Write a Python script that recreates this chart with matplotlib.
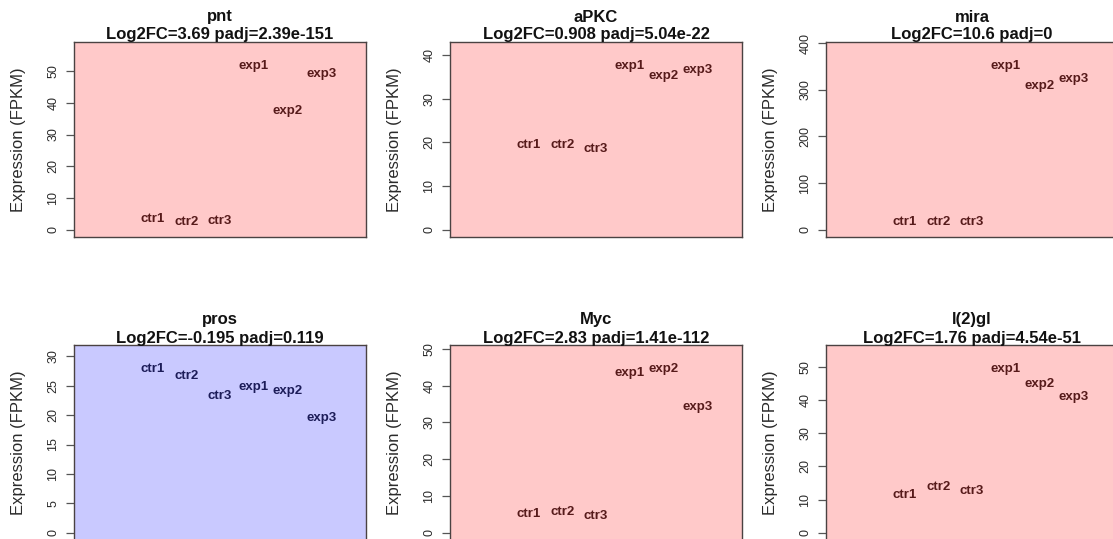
import matplotlib
matplotlib.use("Agg")
import matplotlib.pyplot as plt
from matplotlib.ticker import MultipleLocator
from matplotlib.transforms import offset_copy

plt.rcParams["font.family"] = ["Liberation Sans", "DejaVu Sans"]

# Genes, DESeq2 statistics and per-sample expression (FPKM)
genes = ["pnt", "aPKC", "mira", "pros", "Myc", "l(2)gl"]
log2fc = ["3.69", "0.908", "10.6", "-0.195", "2.83", "1.76"]
padj = ["2.39e-151", "5.04e-22", "0", "0.119", "1.41e-112", "4.54e-51"]
samples = ["ctr1", "ctr2", "ctr3", "exp1", "exp2", "exp3"]

pnt_fpkm = [3.4, 2.6, 2.7, 51.7, 37.5, 49.2]
apkc_fpkm = [19.4, 19.4, 18.5, 37.6, 35.3, 36.7]
mira_fpkm = [17.2, 17.5, 17.5, 351.7, 308.7, 322.4]
pros_fpkm = [27.9, 26.6, 23.3, 24.7, 24.1, 19.5]
myc_fpkm = [5.2, 5.75, 4.5, 43.5, 44.6, 34.2]
l2gl_fpkm = [11.3, 13.8, 12.6, 49.5, 44.8, 40.9]
tick_steps = [10, 10, 100, 5, 10, 10]

expression = [pnt_fpkm, apkc_fpkm, mira_fpkm, pros_fpkm, myc_fpkm, l2gl_fpkm]

W, H = 1113, 539
fig = plt.figure(figsize=(W / 100, H / 100), dpi=100)
fig.patch.set_facecolor("white")

lefts = [74, 450, 826]
tops = [42, 345]
pw, ph = 292, 195

up_fill, up_text = "#ffc9c9", "#561a1a"
down_fill, down_text = "#c9c9ff", "#1c1c58"
frame = "#4a4242"

for i, gene in enumerate(genes):
    r, c = divmod(i, 3)
    left, top = lefts[c], tops[r]
    ax = fig.add_axes([left / W, 1 - (top + ph) / H, pw / W, ph / H])
    up = float(log2fc[i]) >= 0
    ax.set_facecolor(up_fill if up else down_fill)
    tcol = up_text if up else down_text

    vals = expression[i]
    xs = list(range(1, len(samples) + 1))
    for x, y, lab in zip(xs, vals, samples):
        ax.text(x, y, lab, ha="center", va="center", fontsize=9.5,
                fontweight="bold", color=tcol)

    top_lim = 1.1 * max(vals)
    ax.set_ylim(-0.04 * top_lim, 1.04 * top_lim)
    ax.set_xlim(-1 - 0.32, 7 + 0.32)

    ax.yaxis.set_major_locator(MultipleLocator(tick_steps[i]))
    ax.set_xticks([])
    ax.tick_params(axis="y", direction="out", length=5.5, width=0.9,
                   color="#555555", labelsize=9, labelcolor="#2a2a2a",
                   pad=5, labelrotation=90)
    for lab in ax.get_yticklabels():
        lab.set_verticalalignment("center")
    for sp in ax.spines.values():
        sp.set_color(frame)
        sp.set_linewidth(1.0)

    ax.set_ylabel("Expression (FPKM)", fontsize=12, color="#2a2a2a")
    ax.yaxis.label.set_verticalalignment("center")
    ax.yaxis.set_label_coords(-0.19, 0.5)

    line2 = offset_copy(ax.transAxes, fig=fig, x=0, y=2.5, units="dots")
    line1 = offset_copy(ax.transAxes, fig=fig, x=0, y=20.5, units="dots")
    ax.text(0.5, 1.0, f"Log2FC={log2fc[i]} padj={padj[i]}", transform=line2,
            ha="center", va="baseline", fontsize=12, fontweight="bold",
            color="#111111")
    ax.text(0.5, 1.0, gene, transform=line1, ha="center", va="baseline",
            fontsize=12, fontweight="bold", color="#111111")

fig.savefig("out.png", dpi=100, facecolor="white")
